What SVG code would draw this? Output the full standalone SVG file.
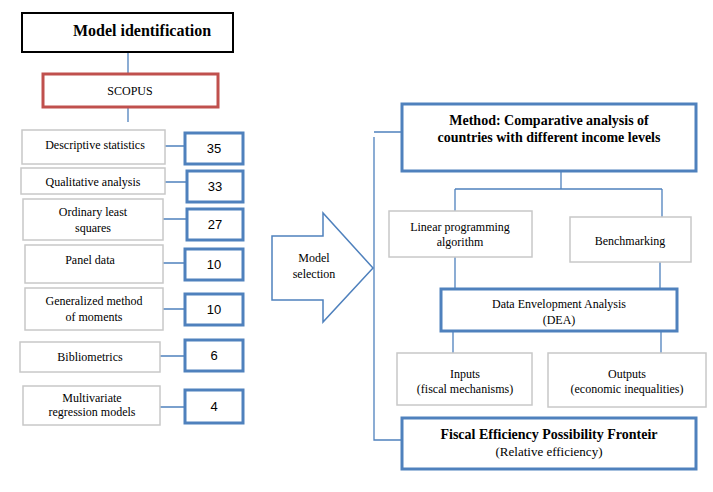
<svg xmlns="http://www.w3.org/2000/svg" width="713" height="492" viewBox="0 0 713 492">
<style>
text{font-family:"Liberation Serif","DejaVu Serif",serif;font-size:12px;fill:#000;text-anchor:middle}
.b{font-weight:bold;font-size:14px}
.g{fill:#fff;stroke:#c8c8c8;stroke-width:1.5}
.n{fill:#fff;stroke:#4f81bd;stroke-width:3}
.c{fill:none;stroke:#4f81bd;stroke-width:1.3}
.num{font-family:"Liberation Sans",sans-serif;font-size:13px}
</style>
<g id="connectors">
<path class="c" d="M128 52V75M128 107V122M165 146H185M162 182H187M163 219H187M163 263H185M163 309H185M160 356H185M160 407H185"/>
<path class="c" d="M374 137V440H402M374 132H402M561 171V189M455 189H662M455 189V211M662 189V217M455 257V290M660 262V289M453 331V353M661 331V353"/>
</g>
<g id="model-identification"><rect x="22" y="13" width="211" height="39" fill="#fff" stroke="#000" stroke-width="2"/><text x="142" y="36" class="b" style="font-size:16px">Model identification</text></g>
<g id="scopus"><rect x="43" y="74" width="175" height="33" fill="#fff" stroke="#c0504d" stroke-width="3"/><text x="130" y="95">SCOPUS</text></g>
<g id="desc"><rect class="g" x="22" y="130" width="143" height="34"/><text x="95" y="149">Descriptive statistics</text></g>
<g id="n35"><rect class="n" x="185" y="133" width="58" height="31"/><text class="num" x="214" y="153">35</text></g>
<g id="qual"><rect class="g" x="21" y="168" width="144" height="26"/><text x="93" y="186">Qualitative analysis</text></g>
<g id="n33"><rect class="n" x="187" y="171" width="56" height="31"/><text class="num" x="215" y="191">33</text></g>
<g id="ols"><rect class="g" x="23" y="199" width="140" height="41"/><text x="93" y="216">Ordinary least</text><text x="93" y="232">squares</text></g>
<g id="n27"><rect class="n" x="187" y="209" width="56" height="31"/><text class="num" x="215" y="229">27</text></g>
<g id="panel"><rect class="g" x="25" y="245" width="138" height="38"/><text x="90" y="264">Panel data</text></g>
<g id="n10a"><rect class="n" x="185" y="249" width="58" height="31"/><text class="num" x="214" y="269">10</text></g>
<g id="gmm"><rect class="g" x="25" y="288" width="138" height="42"/><text x="94" y="305">Generalized method</text><text x="94" y="321">of moments</text></g>
<g id="n10b"><rect class="n" x="185" y="294" width="58" height="31"/><text class="num" x="214" y="314">10</text></g>
<g id="biblio"><rect class="g" x="20" y="342" width="140" height="30"/><text x="90" y="361">Bibliometrics</text></g>
<g id="n6"><rect class="n" x="185" y="340" width="58" height="31"/><text class="num" x="214" y="360">6</text></g>
<g id="multi"><rect class="g" x="23" y="386" width="137" height="39"/><text x="92" y="402">Multivariate</text><text x="92" y="416">regression models</text></g>
<g id="n4"><rect class="n" x="185" y="390" width="58" height="33"/><text class="num" x="214" y="411">4</text></g>
<g id="model-selection"><path d="M272 236H323V213L373 268L323 322V300H272Z" fill="#fff" stroke="#4f81bd" stroke-width="1.5"/><text x="314" y="262">Model</text><text x="314" y="278">selection</text></g>
<g id="method"><rect class="n" x="402" y="104" width="294" height="67"/><text class="b" x="549" y="125">Method: Comparative analysis of</text><text class="b" x="549" y="142">countries with different income levels</text></g>
<g id="lp"><rect class="g" x="389" y="211" width="143" height="46"/><text x="460" y="231">Linear programming</text><text x="460" y="246">algorithm</text></g>
<g id="bench"><rect class="g" x="570" y="217" width="121" height="45"/><text x="630" y="245">Benchmarking</text></g>
<g id="dea"><rect class="n" x="441" y="289" width="236" height="42"/><text x="559" y="308">Data Envelopment Analysis</text><text x="559" y="324">(DEA)</text></g>
<g id="inputs"><rect class="g" x="397" y="353" width="135" height="52"/><text x="465" y="378">Inputs</text><text x="465" y="393">(fiscal mechanisms)</text></g>
<g id="outputs"><rect class="g" x="548" y="353" width="158" height="54"/><text x="627" y="378">Outputs</text><text x="627" y="393">(economic inequalities)</text></g>
<g id="fiscal"><rect class="n" x="402" y="418" width="294" height="51"/><text class="b" x="549" y="439">Fiscal Efficiency Possibility Fronteir</text><text x="549" y="456" style="font-size:13px">(Relative efficiency)</text></g>
</svg>
